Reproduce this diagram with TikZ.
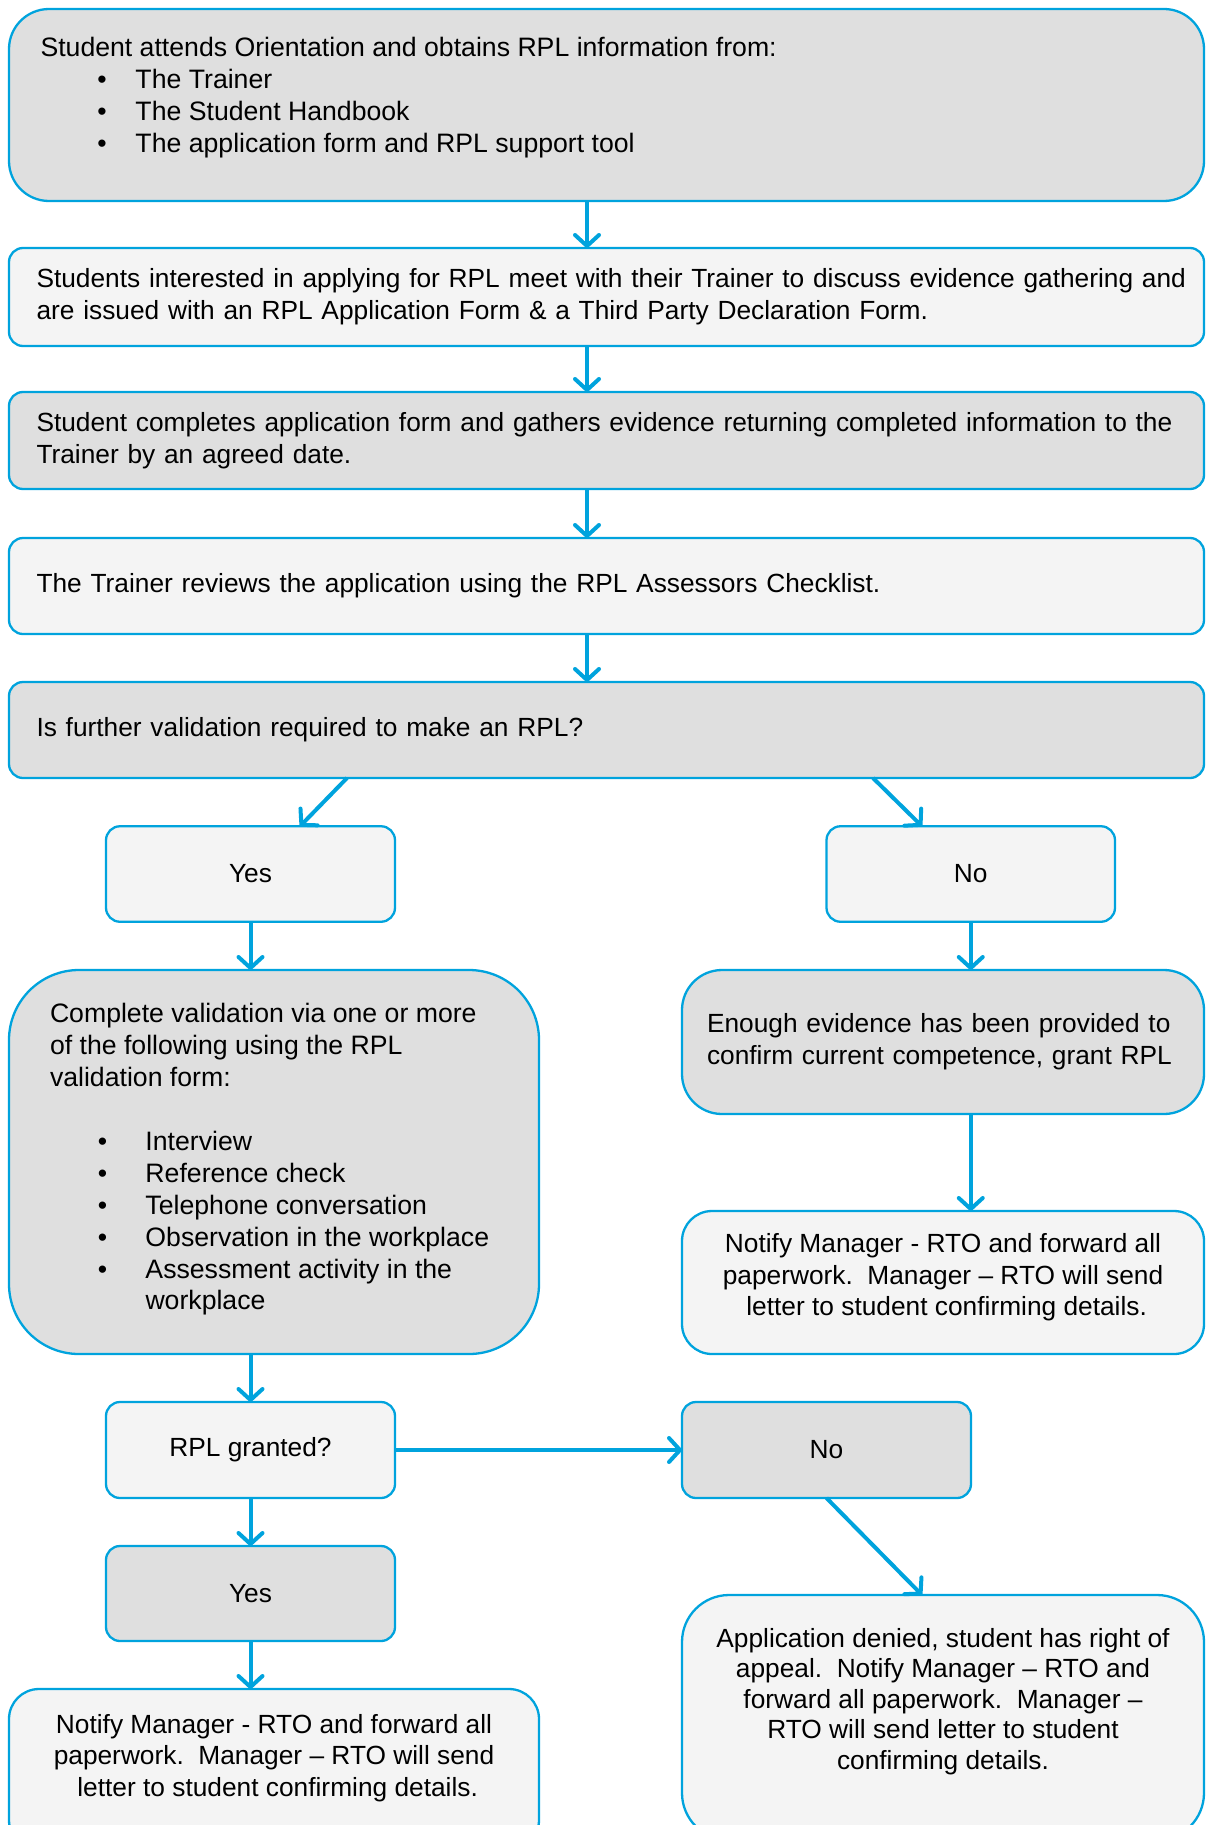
\documentclass[tikz,border=0pt]{standalone}
\usepackage{fontspec}
\setmainfont{Liberation Sans}
\usetikzlibrary{arrows.meta}
\definecolor{bblue}{RGB}{0,163,221}
\definecolor{darkg}{RGB}{223,223,223}
\definecolor{lightg}{RGB}{244,244,244}
\newcommand{\fsz}{\fontsize{26.3pt}{31.7pt}\selectfont\frenchspacing}
\newcommand{\fbig}{\fontsize{26.65pt}{31.9pt}\selectfont}
\newcommand{\tbx}[4]{\begin{minipage}[c][#2][t]{#1}\vspace*{#3}#4\end{minipage}}
\newcommand{\blt}[2]{\hspace*{#1}\makebox[#2][l]{•}}
\begin{document}
\begin{tikzpicture}[x=1pt,y=-1pt,
  box/.style={draw=bblue,line width=2.3pt,inner sep=0pt,outer sep=0pt,font=\fsz},
  lt/.style={box,fill=lightg},
  dk/.style={box,fill=darkg},
  arr/.style={draw=bblue,line width=4pt,-{Straight Barb[length=11pt,width=24pt,round]}}]
\useasboundingbox (0,0) rectangle (1206,1825);
\clip (0,0) rectangle (1206,1825);

\node[dk,rounded corners=40pt,minimum width=1195pt,minimum height=192pt] (b1) at (606.5,105)
  {\tbx{1132pt}{192pt}{28pt}{\fbig\raggedright Student attends Orientation and obtains RPL information from:\\
   \blt{56.8pt}{38.2pt}The Trainer\\
   \blt{56.8pt}{38.2pt}The Student Handbook\\
   \blt{56.8pt}{38.2pt}The application form and RPL support tool}};

\node[lt,rounded corners=14pt,minimum width=1195pt,minimum height=98pt,text width=1140pt,align=left] (b2) at (606.5,297)
  {\makebox[0pt][l]{Students interested in applying for RPL meet with their Trainer to discuss evidence gathering and}\\ are issued with an RPL Application Form \& a Third Party Declaration Form.};

\node[dk,rounded corners=14pt,minimum width=1195pt,minimum height=97pt,text width=1140pt,align=left] (b3) at (606.5,440.5)
  {Student completes application form and gathers evidence returning completed information to the\\ Trainer by an agreed date.};

\node[lt,rounded corners=14pt,minimum width=1195pt,minimum height=96pt,text width=1140pt,align=left] (b4) at (606.5,586)
  {The Trainer reviews the application using the RPL Assessors Checklist.};

\node[dk,rounded corners=14pt,minimum width=1195pt,minimum height=96pt,text width=1140pt,align=left] (b5) at (606.5,730)
  {Is further validation required to make an RPL?};

\node[lt,rounded corners=14pt,minimum width=289pt,minimum height=95.5pt] (yes1) at (250.5,874) {Yes};
\node[lt,rounded corners=14pt,minimum width=288.5pt,minimum height=95.5pt] (no1) at (970.75,874) {No};

\node[dk,rounded corners=70pt,minimum width=530pt,minimum height=384pt] (big) at (274,1162)
  {\tbx{448pt}{384pt}{33.5pt}{\fbig\raggedright Complete validation via one or more\\ of the following using the RPL\\ validation form:\\[31.9pt]
   \blt{47.8pt}{47.7pt}Interview\\
   \blt{47.8pt}{47.7pt}Reference check\\
   \blt{47.8pt}{47.7pt}Telephone conversation\\
   \blt{47.8pt}{47.7pt}Observation in the workplace\\
   \blt{47.8pt}{47.7pt}Assessment activity in the\\
   \hspace*{95.5pt}workplace}};

\node[dk,rounded corners=40pt,minimum width=522pt,minimum height=144pt,text width=472pt,align=left] (enough) at (943,1042)
  {Enough evidence has been provided to\\ confirm current competence, grant RPL};

\node[lt,rounded corners=30pt,minimum width=522pt,minimum height=143pt] (notR) at (943,1282.5)
  {\tbx{467pt}{143pt}{22.5pt}{\centering Notify Manager - RTO and forward all\\ paperwork.\ \ Manager – RTO will send\\ \ letter to student confirming details.}};

\node[lt,rounded corners=14pt,minimum width=289pt,minimum height=96pt] (rpl) at (250.5,1450) {RPL granted?};
\node[dk,rounded corners=14pt,minimum width=289pt,minimum height=96pt] (no2) at (826.5,1450) {No};
\node[dk,rounded corners=14pt,minimum width=289pt,minimum height=95pt] (yes2) at (250.5,1593.5) {Yes};

\node[lt,rounded corners=30pt,minimum width=530pt,minimum height=161pt] (notL) at (274,1769.5)
  {\tbx{448pt}{161pt}{25pt}{\centering Notify Manager - RTO and forward all\\ paperwork.\ \ Manager – RTO will send\\ \ letter to student confirming details.}};

\node[lt,rounded corners=47pt,minimum width=522pt,minimum height=245pt] (app) at (943,1717.5)
  {\tbx{467pt}{245pt}{33pt}{\fontsize{26.3pt}{30.6pt}\selectfont\centering Application denied, student has right of\\ appeal.\ \ Notify Manager – RTO and\\ forward all paperwork.\ \ Manager –\\ RTO will send letter to student\\ confirming details.}};

\coordinate (cx) at (587,0);
\draw[arr] (b1.south -| cx) -- (b2.north -| cx);
\draw[arr] (b2.south -| cx) -- (b3.north -| cx);
\draw[arr] (b3.south -| cx) -- (b4.north -| cx);
\draw[arr] (b4.south -| cx) -- (b5.north -| cx);
\draw[arr] ([xshift=338pt]b5.south west) -- ([xshift=194pt]yes1.north west);
\draw[arr] ([xshift=864pt]b5.south west) -- ([xshift=95.5pt]no1.north west);
\draw[arr] (yes1.south) -- (yes1.south |- big.north);
\draw[arr] (no1.south) -- (no1.south |- enough.north);
\draw[arr] (enough.south -| no1.south) -- (notR.north -| no1.south);
\draw[arr] (big.south -| rpl.north) -- (rpl.north);
\draw[arr] (rpl.east) -- (no2.west);
\draw[arr] (rpl.south) -- (yes2.north);
\draw[arr] (yes2.south) -- (yes2.south |- notL.north);
\draw[arr] (no2.south) -- ([xshift=240pt]app.north west);
\end{tikzpicture}
\end{document}
